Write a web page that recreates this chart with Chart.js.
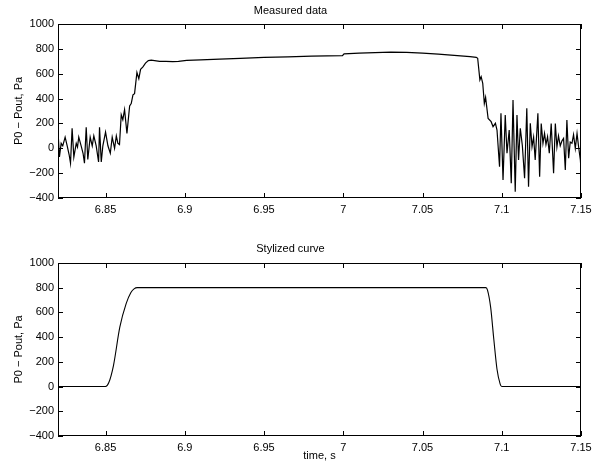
<!DOCTYPE html>
<html>
<head>
<meta charset="utf-8">
<script src="https://cdn.jsdelivr.net/npm/chart.js@4/dist/chart.umd.min.js"></script>
<style>
  body { margin: 0; background: #fff; }
  canvas { position: absolute; left: 0; }
  #top { top: 0; }
  #bottom { top: 233px; }
</style>
</head>
<body>
<canvas id="top" width="597" height="233"></canvas>
<canvas id="bottom" width="597" height="233"></canvas>
<script>
// measured pressure difference
const measuredTime = [
    6.8200, 6.8209, 6.8220, 6.8230, 6.8245, 6.8258, 6.8270, 6.8279, 6.8289, 6.8300,
    6.8315, 6.8323, 6.8331, 6.8346, 6.8358, 6.8367, 6.8378, 6.8388, 6.8403, 6.8416,
    6.8426, 6.8441, 6.8456, 6.8462, 6.8473, 6.8483, 6.8500, 6.8515, 6.8530, 6.8542,
    6.8557, 6.8568, 6.8578, 6.8588, 6.8599, 6.8609, 6.8620, 6.8635, 6.8652, 6.8662,
    6.8673, 6.8683, 6.8698, 6.8710, 6.8721, 6.8736, 6.8752, 6.8770, 6.8789, 6.8841,
    6.8880, 6.8924, 6.8960, 6.9012, 6.9100, 6.9220, 6.9350, 6.9500, 6.9650, 6.9800,
    6.9995, 7.0005, 7.0100, 7.0200, 7.0300, 7.0400, 7.0500, 7.0600, 7.0700, 7.0800,
    7.0839, 7.0848, 7.0862, 7.0870, 7.0880, 7.0890, 7.0898, 7.0914, 7.0933, 7.0945,
    7.0960, 7.0970, 7.0986, 7.0995, 7.1008, 7.1022, 7.1033, 7.1047, 7.1060, 7.1071,
    7.1085, 7.1096, 7.1106, 7.1117, 7.1130, 7.1144, 7.1158, 7.1169, 7.1180, 7.1191,
    7.1201, 7.1211, 7.1228, 7.1239, 7.1249, 7.1260, 7.1270, 7.1279, 7.1289, 7.1300,
    7.1312, 7.1327, 7.1338, 7.1348, 7.1358, 7.1369, 7.1380, 7.1390, 7.1401, 7.1411,
    7.1422, 7.1432, 7.1443, 7.1453, 7.1464, 7.1475, 7.1485, 7.1496, 7.1500
];
const measuredPressure = [
    140, -70, 40, 20, 90, 20, -50, -120, 160, -70,
    40, 10, 90, 20, -40, -120, 170, -90, 90, 20,
    100, 20, -110, 170, -110, 20, 130, 20, -40, 90,
    0, 100, 40, 30, 270, 230, 310, 120, 340, 360,
    430, 440, 610, 560, 635, 655, 685, 705, 710, 700,
    699, 697, 700, 708, 712, 718, 724, 731, 736, 741,
    745, 760, 765, 770, 773, 771, 765, 758, 748, 738,
    732, 724, 550, 576, 523, 360, 410, 240, 214, 174,
    201, 147, -148, 281, -255, 268, -40, 147, -282, 389,
    -349, 268, -94, 161, 20, -241, 322, -309, 201, 13,
    90, -94, 281, -228, 200, 40, 120, 30, 93, -40,
    200, -201, 200, 10, 100, 20, 60, 80, -174, 228,
    -80, 50, 40, 110, 0, 120, 10, -94, -170
];

// stylized curve
const stylizedTime = [
    6.820, 6.850, 6.852, 6.855, 6.859, 6.863, 6.866, 6.868, 6.870,
    7.090, 7.091, 7.093, 7.095, 7.097, 7.099, 7.100, 7.150
];
const stylizedPressure = [
    0, 0, 30, 170, 480, 670, 760, 790, 800,
    800, 780, 640, 380, 140, 20, 0, 0
];

const xTicks = [6.85, 6.9, 6.95, 7, 7.05, 7.1, 7.15];
const yTicks = [-400, -200, 0, 200, 400, 600, 800, 1000];

const FONT = { family: '"Liberation Sans", Arial, sans-serif', size: 11 };

// matlab-like box with inward ticks
const frameTicks = {
    id: 'frameTicks',
    afterDraw(chart) {
        const { ctx, chartArea: a, scales } = chart;
        const L = Math.round(a.left), R = Math.round(a.right) - 1;
        const T = Math.round(a.top), B = Math.round(a.bottom) - 1;
        ctx.save();
        ctx.fillStyle = '#000';
        ctx.fillRect(L, T, R - L + 1, 1);
        ctx.fillRect(L, B, R - L + 1, 1);
        ctx.fillRect(L, T, 1, B - T + 1);
        ctx.fillRect(R, T, 1, B - T + 1);
        for (const v of xTicks) {
            const px = Math.round(scales.x.getPixelForValue(v));
            ctx.fillRect(px, B - 4, 1, 5);
            ctx.fillRect(px, T, 1, 5);
        }
        for (const v of yTicks) {
            const py = Math.round(scales.y.getPixelForValue(v));
            ctx.fillRect(L, py, 5, 1);
            ctx.fillRect(R - 4, py, 5, 1);
        }
        ctx.restore();
    }
};

function makeChart(id, title, times, values, opts) {
    const points = times.map((t, i) => ({ x: t, y: values[i] }));
    return new Chart(document.getElementById(id), {
        type: 'scatter',
        data: {
            datasets: [{
                data: points,
                showLine: true,
                borderColor: '#000',
                borderWidth: opts.lineWidth,
                pointRadius: 0,
                cubicInterpolationMode: opts.smooth ? 'monotone' : 'default',
                tension: 0
            }]
        },
        options: {
            responsive: false,
            animation: false,
            layout: { padding: { left: 0, right: 16, top: 0, bottom: 0 } },
            plugins: {
                legend: { display: false },
                tooltip: { enabled: false },
                title: {
                    display: true,
                    text: title,
                    color: '#000',
                    font: { ...FONT, weight: 'normal' },
                    padding: opts.titlePad
                }
            },
            scales: {
                x: {
                    type: 'linear',
                    min: 6.82,
                    max: 7.15,
                    grid: { display: false, drawTicks: false },
                    border: { display: false },
                    afterBuildTicks: s => { s.ticks = xTicks.map(v => ({ value: v })); },
                    afterFit: s => { s.height = opts.xHeight; },
                    ticks: {
                        color: '#000',
                        font: FONT,
                        padding: 5,
                        maxRotation: 0,
                        autoSkip: false,
                        callback: v => String(+v.toFixed(2))
                    },
                    title: {
                        display: !!opts.xTitle,
                        text: opts.xTitle || '',
                        color: '#000',
                        font: FONT,
                        padding: { top: 0, bottom: 3 }
                    }
                },
                y: {
                    min: -400,
                    max: 1000,
                    grid: { display: false, drawTicks: false },
                    border: { display: false },
                    afterBuildTicks: s => { s.ticks = yTicks.map(v => ({ value: v })); },
                    afterFit: s => { s.width = 58; },
                    ticks: {
                        color: '#000',
                        font: FONT,
                        padding: 4,
                        autoSkip: false,
                        callback: v => String(v).replace('-', '\u2212')
                    },
                    title: {
                        display: true,
                        text: 'P0 \u2212 Pout, Pa',
                        color: '#000',
                        font: FONT,
                        padding: { top: 12, bottom: 0 }
                    }
                }
            }
        },
        plugins: [frameTicks]
    });
}

makeChart('top', 'Measured data', measuredTime, measuredPressure, {
    lineWidth: 1.2, smooth: false, xHeight: 35,
    titlePad: { top: 4, bottom: 6.8 }
});
makeChart('bottom', 'Stylized curve', stylizedTime, stylizedPressure, {
    lineWidth: 1.1, smooth: true, xHeight: 30, xTitle: 'time, s',
    titlePad: { top: 9.4, bottom: 7.3 }
});
</script>
</body>
</html>
